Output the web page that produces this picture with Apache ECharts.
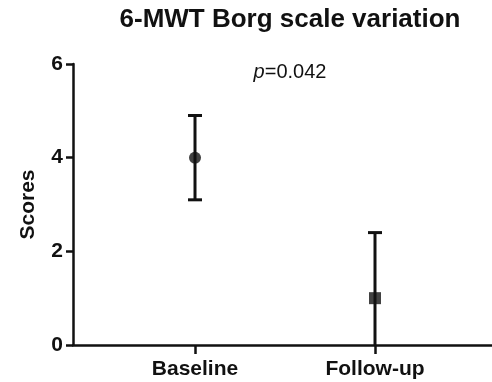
<!DOCTYPE html>
<html>
<head>
<meta charset="utf-8">
<script src="https://cdn.jsdelivr.net/npm/echarts@6/dist/echarts.min.js"></script>
<style>
  html, body { margin: 0; padding: 0; background: #fff; }
  #chart { width: 492px; height: 382px; }
</style>
</head>
<body>
<div id="chart"></div>
<script>
// data
const categories = ["Baseline", "Follow-up"];
const xPos = [1, 2];
const means = [4, 1];
const upper = [4.9, 2.4];
const lower = [3.1, -0.4];
const symbols = ["circle", "rect"];
const yTicks = [0, 2, 4, 6];

const font = "Liberation Sans, Arial, Helvetica, sans-serif";
const chart = echarts.init(document.getElementById("chart"));

const errData = xPos.map((x, i) => [x, lower[i], upper[i]]);
const meanData = xPos.map((x, i) => ({ value: [x, means[i]], symbol: symbols[i] }));

const option = {
  backgroundColor: "#fff",
  animation: false,
  title: [
    {
      text: "6-MWT Borg scale variation",
      left: 285,
      top: 2,
      textAlign: "center",
      textStyle: { fontFamily: font, fontSize: 26, fontWeight: "bold", color: "#111" },
    },
    {
      text: "{i|p}=0.042",
      left: 285,
      top: 57,
      textAlign: "center",
      textStyle: {
        fontFamily: font, fontSize: 20, fontWeight: "normal", color: "#111",
        rich: { i: { fontFamily: font, fontSize: 20, fontStyle: "italic", color: "#111" } },
      },
    },
  ],
  grid: { left: 73, right: 0, top: 64, bottom: 37 },
  xAxis: {
    type: "value",
    min: 0.3222,
    max: 2.65,
    splitLine: { show: false },
    axisLine: { lineStyle: { color: "#111", width: 2.5 } },
    axisTick: { customValues: xPos, length: 9, lineStyle: { color: "#111", width: 2.5 } },
    axisLabel: {
      customValues: xPos,
      formatter: (v) => categories[xPos.indexOf(v)] || "",
      margin: 14,
      fontFamily: font, fontSize: 21, fontWeight: "bold", color: "#111",
    },
  },
  yAxis: {
    type: "value",
    min: 0,
    max: 6,
    interval: 2,
    name: "Scores",
    nameLocation: "middle",
    nameGap: 34,
    nameTextStyle: { fontFamily: font, fontSize: 21, fontWeight: "bold", color: "#111" },
    splitLine: { show: false },
    axisLine: { show: true, lineStyle: { color: "#111", width: 2.5 } },
    axisTick: { show: true, customValues: yTicks, length: 7, lineStyle: { color: "#111", width: 2.5 } },
    axisLabel: {
      customValues: yTicks,
      margin: 10,
      fontFamily: font, fontSize: 21, fontWeight: "bold", color: "#111",
    },
  },
  series: [
    {
      type: "custom",
      clip: true,
      data: errData,
      renderItem: (params, api) => {
        const x = api.value(0);
        const lo = api.coord([x, api.value(1)]);
        const hi = api.coord([x, api.value(2)]);
        const hw = 7;
        const style = { stroke: "#111", lineWidth: 3 };
        return {
          type: "group",
          children: [
            { type: "line", shape: { x1: lo[0], y1: lo[1], x2: hi[0], y2: hi[1] }, style },
            { type: "line", shape: { x1: hi[0] - hw, y1: hi[1], x2: hi[0] + hw, y2: hi[1] }, style },
            { type: "line", shape: { x1: lo[0] - hw, y1: lo[1], x2: lo[0] + hw, y2: lo[1] }, style },
          ],
        };
      },
      z: 2,
    },
    {
      type: "scatter",
      data: meanData,
      symbolSize: 12,
      itemStyle: { color: "#111" },
      z: 3,
    },
  ],
};
chart.setOption(option);
</script>
</body>
</html>
